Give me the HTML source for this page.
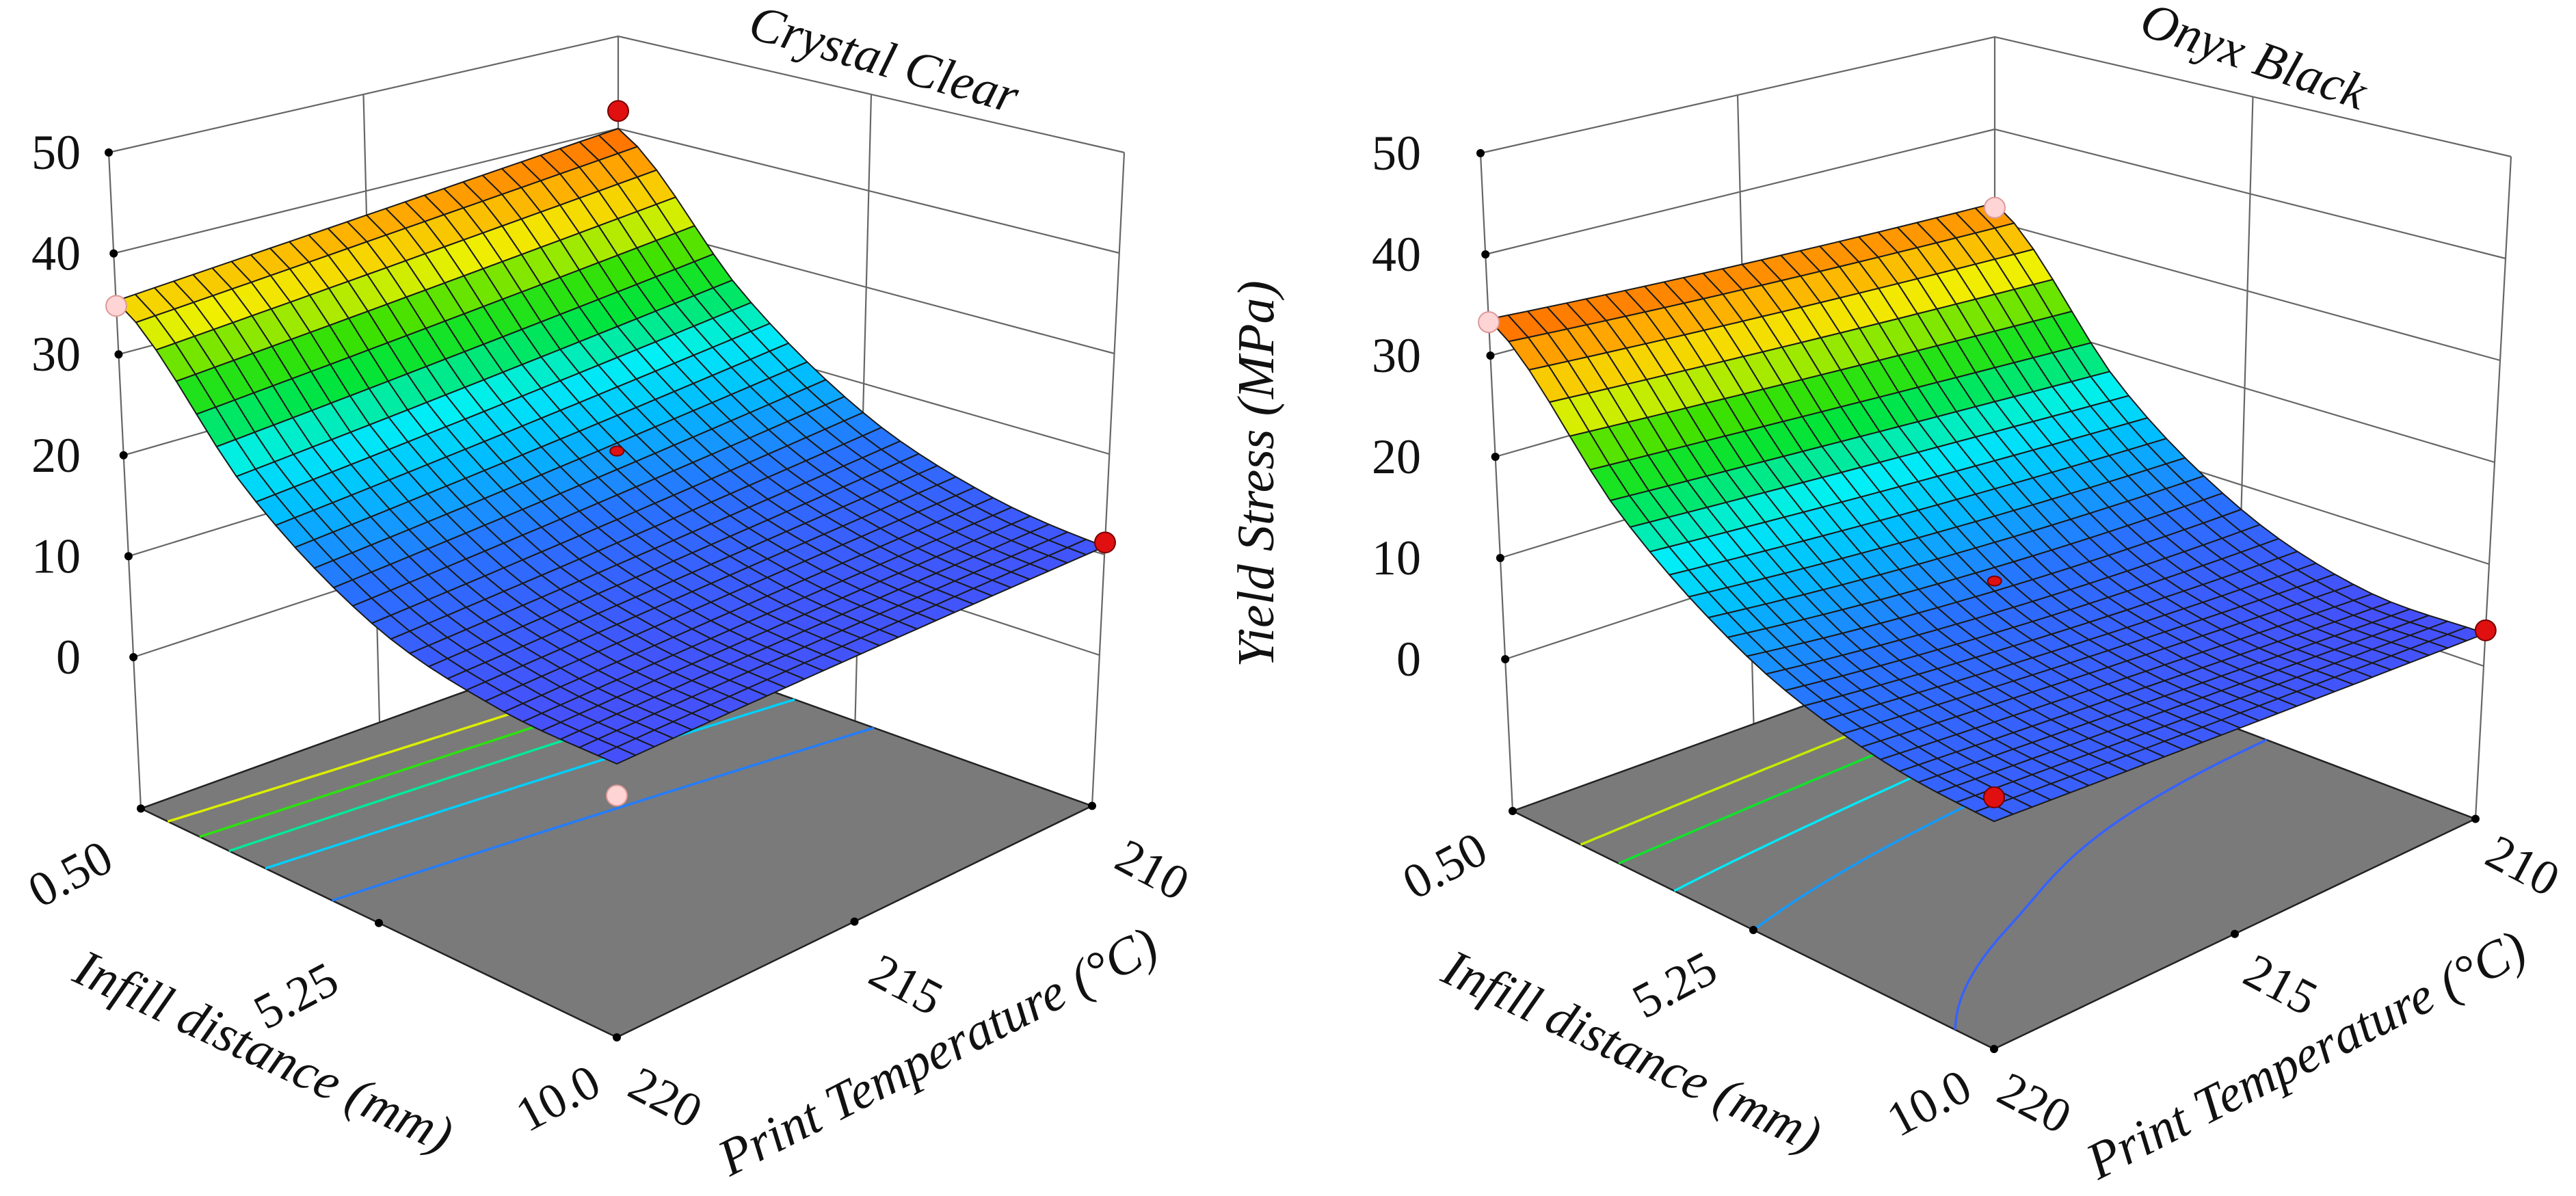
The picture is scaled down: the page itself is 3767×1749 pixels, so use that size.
<!DOCTYPE html>
<html><head><meta charset="utf-8">
<style>
html,body{margin:0;padding:0;background:#fff;}
svg{display:block;}
text{font-family:"Liberation Serif",serif;fill:#111;}
.it{font-style:italic;}
</style></head>
<body>
<svg id="fig" width="3767" height="1749" viewBox="0 0 3767 1749" xmlns="http://www.w3.org/2000/svg" font-family="Liberation Serif, serif">
  <g id="left-chart"></g>
  <g id="right-chart"></g>
  <text x="0" y="0" font-size="76" font-family="Liberation Serif, serif" font-style="italic" class="it" text-anchor="middle" transform="translate(1862,693) rotate(-90)">Yield Stress (MPa)</text>
</svg>
<script>
// ---- data ----
const infillTicks = ['0.50', '5.25', '10.0'];
const tempTicks = ['220', '215', '210'];
const zTicks = [0, 10, 20, 30, 40, 50];
// Crystal Clear surface (columns: infill 0.50 → 10.0)
const ccRow220 = [35.3, 21.5, 13.5, 10.5, 10];
const ccRow215 = [37.5, 23.5, 15, 11.5, 10.5];
const ccRow210 = [40, 26, 17, 12.5, 10.8];
// design points: A(0.5,220) B(10,220) C(10,210) D(0.5,210) center
const ccDesign = [34.8, 7.1, 11.2, 41.9, 21.8];
const ccLevels = [16, 21, 25, 29, 33];
// Onyx Black surface
const obRow220 = [33.6, 19.5, 11, 7, 5.8];
const obRow215 = [32.5, 18, 8.5, 5.2, 4.5];
const obRow210 = [32, 16.5, 7.5, 3.5, 3.2];
const obDesign = [33.3, 8, 3.5, 31.5, 9.5];
const obLevels = [6, 11, 16, 21, 26];

const NS = 'http://www.w3.org/2000/svg';
const FONT = 'Liberation Serif, serif';
function mk(parent, tag, attrs) {
  const e = document.createElementNS(NS, tag);
  for (const k in attrs) e.setAttribute(k, attrs[k]);
  parent.appendChild(e);
  return e;
}
const ZB = -15, ZT = 50;

function makeChart(g, cfg) {
  const rows = [cfg.r220, cfg.r215, cfg.r210];
  function crow(r, u) {
    const t = u * 4; let i = Math.min(3, Math.floor(t)); const f = t - i;
    const p0 = r[Math.max(0, i - 1)], p1 = r[i], p2 = r[i + 1], p3 = r[Math.min(4, i + 2)];
    return 0.5 * ((2 * p1) + (-p0 + p2) * f + (2 * p0 - 5 * p1 + 4 * p2 - p3) * f * f + (-p0 + 3 * p1 - 3 * p2 + p3) * f * f * f);
  }
  function Z(u, v) {
    const a = crow(rows[0], u), b = crow(rows[1], u), c = crow(rows[2], u);
    const l0 = 2 * (v - 0.5) * (v - 1), l1 = -4 * v * (v - 1), l2 = 2 * v * (v - 0.5);
    return a * l0 + b * l1 + c * l2;
  }
  function edge(e, z) {
    return [e.xb + (e.xt - e.xb) * (z - ZB) / (ZT - ZB), e.y0 - e.s * z];
  }
  function P(u, v, z) {
    const A = edge(cfg.A, z), B = edge(cfg.B, z), C = edge(cfg.C, z), D = edge(cfg.D, z);
    const w = [(1 - u) * (1 - v), u * (1 - v), u * v, (1 - u) * v];
    return [w[0] * A[0] + w[1] * B[0] + w[2] * C[0] + w[3] * D[0], w[0] * A[1] + w[1] * B[1] + w[2] * C[1] + w[3] * D[1]];
  }
  let zmin = 1e9, zmax = -1e9;
  for (let i = 0; i <= 40; i++) for (let j = 0; j <= 40; j++) { const z = Z(i / 40, j / 40); zmin = Math.min(zmin, z); zmax = Math.max(zmax, z); }
  const stops = [[0, [70, 80, 250]], [0.18, [40, 115, 255]], [0.33, [0, 190, 255]], [0.44, [0, 240, 245]], [0.56, [0, 228, 60]], [0.66, [60, 225, 0]], [0.78, [240, 240, 0]], [0.9, [255, 170, 0]], [1, [255, 100, 0]]];
  function cmap(z) {
    let t = (z - zmin) / (zmax - zmin); t = Math.max(0, Math.min(1, t));
    for (let i = 1; i < stops.length; i++) if (t <= stops[i][0]) {
      const a = stops[i - 1], b = stops[i], f = (t - a[0]) / (b[0] - a[0]);
      return 'rgb(' + a[1].map((c, k) => Math.round(c + (b[1][k] - c) * f)).join(',') + ')';
    }
    return 'rgb(255,100,0)';
  }
  const pt = p => p[0].toFixed(1) + ',' + p[1].toFixed(1);

  const walls = mk(g, 'g', {stroke: '#666', 'stroke-width': 2.2, fill: 'none'});
  
  
  zTicks.forEach(z => {
    const l = mk(walls, 'polyline', {points: [P(0, 0, z), P(0, 1, z), P(1, 1, z)].map(pt).join(' ')});
    
    
  });
  [[0, 0], [0, 1], [1, 1], [0, 0.5], [0.5, 1]].forEach(([u, v]) => {
    const l = mk(walls, 'line', {x1: P(u, v, ZB)[0], y1: P(u, v, ZB)[1], x2: P(u, v, ZT)[0], y2: P(u, v, ZT)[1]});
    
    
  });
  const floor = mk(g, 'polygon', {points: [P(0, 0, ZB), P(1, 0, ZB), P(1, 1, ZB), P(0, 1, ZB)].map(pt).join(' '), fill: '#7a7a7a', stroke: '#222', 'stroke-width': 2.5});
  
  
  cfg.levels.forEach(L => {
    const pts = [];
    for (let j = 0; j <= 60; j++) {
      const v = j / 60; let prev = Z(0, v) - L;
      for (let i = 1; i <= 200; i++) {
        const u = i / 200, cur = Z(u, v) - L;
        if ((prev > 0) !== (cur > 0)) { const uu = u - (1 / 200) * cur / (cur - prev); pts.push(P(uu, v, ZB)); break; }
        prev = cur;
      }
    }
    if (pts.length > 1) {
      const c = mk(g, 'polyline', {points: pts.map(pt).join(' '), fill: 'none', stroke: cmap(L), 'stroke-width': 3.5});
      
      
    }
  });
  const N = 26, quads = [];
  for (let i = 0; i < N; i++) for (let j = 0; j < N; j++) {
    const u0 = i / N, u1 = (i + 1) / N, v0 = j / N, v1 = (j + 1) / N;
    const zs = [Z(u0, v0), Z(u1, v0), Z(u1, v1), Z(u0, v1)];
    quads.push({d: (1 - (u0 + u1) / 2) + (v0 + v1) / 2, pts: [P(u0, v0, zs[0]), P(u1, v0, zs[1]), P(u1, v1, zs[2]), P(u0, v1, zs[3])], z: (zs[0] + zs[1] + zs[2] + zs[3]) / 4});
  }
  quads.sort((a, b) => b.d - a.d);
  const surf = mk(g, 'g', {stroke: '#1a1a1a', 'stroke-width': 2, 'stroke-linejoin': 'round'});
  
  
  quads.forEach(q => {
    const p = mk(surf, 'polygon', {points: q.pts.map(pt).join(' '), fill: cmap(q.z)});
    
    
  });
  const dpos = [[0, 0], [1, 0], [1, 1], [0, 1], [0.5, 0.5]];
  cfg.design.forEach((z, k) => {
    const [u, v] = dpos[k], p = P(u, v, z), above = z > Z(u, v);
    const c = mk(g, 'ellipse', {cx: p[0], cy: p[1], rx: k === 4 ? 10 : 15, ry: k === 4 ? 7 : 15, fill: above ? '#e01010' : '#ffd4d4', stroke: above ? '#700' : '#d99', 'stroke-width': 2});
    
    
  });
  const td = mk(g, 'g', {fill: '#000'});
  
  
  zTicks.forEach(z => { const p = P(0, 0, z); const d = mk(td, 'circle', {cx: p[0], cy: p[1], r: 6});   });
  [[0, 0], [0.5, 0], [1, 0], [1, 0.5], [1, 1]].forEach(([u, v]) => { const p = P(u, v, ZB); const d = mk(td, 'circle', {cx: p[0], cy: p[1], r: 6});   });
  zTicks.forEach(z => {
    const p = P(0, 0, z);
    const t = mk(g, 'text', {x: cfg.zLabelX, y: p[1] + 24, 'font-size': 72, 'font-family': FONT, 'text-anchor': 'end'});
    t.textContent = z;
    
    
  });
  infillTicks.forEach((s, k) => {
    const [x, y] = cfg.infillPos[k];
    const t = mk(g, 'text', {x: 0, y: 0, 'font-size': 72, 'font-family': FONT, 'text-anchor': 'middle', transform: 'translate(' + x + ',' + (y + 24) + ') rotate(-28)'});
    t.textContent = s;
    
    
  });
  tempTicks.forEach((s, k) => {
    const [x, y] = cfg.tempPos[k];
    const t = mk(g, 'text', {x: 0, y: 0, 'font-size': 72, 'font-family': FONT, 'text-anchor': 'middle', transform: 'translate(' + x + ',' + (y + 24) + ') rotate(28)'});
    t.textContent = s;
    
    
  });
  const xt = mk(g, 'text', {x: 0, y: 0, 'font-size': 76, 'font-family': FONT, 'font-style': 'italic', 'text-anchor': 'middle', transform: 'translate(' + cfg.infillTitle[0] + ',' + cfg.infillTitle[1] + ') rotate(25)'});
  xt.textContent = 'Infill distance (mm)';
  
  
  const yt = mk(g, 'text', {x: 0, y: 0, 'font-size': 76, 'font-family': FONT, 'font-style': 'italic', 'text-anchor': 'middle', transform: 'translate(' + cfg.tempTitle[0] + ',' + cfg.tempTitle[1] + ') rotate(-27)'});
  yt.textContent = 'Print Temperature (°C)';
  
  
  const tt = mk(g, 'text', {x: 0, y: 0, 'font-size': 74, 'font-family': FONT, 'font-style': 'italic', 'text-anchor': 'middle', transform: 'translate(' + cfg.title[0] + ',' + cfg.title[1] + ') rotate(' + cfg.title[2] + ')'});
  tt.textContent = cfg.name;
  
  
}

makeChart(document.getElementById('left-chart'), {
  name: 'Crystal Clear', r220: ccRow220, r215: ccRow215, r210: ccRow210, design: ccDesign, levels: ccLevels,
  A: {xb: 206, xt: 159, y0: 961, s: 14.76}, B: {xb: 902, xt: 902, y0: 1277, s: 16},
  C: {xb: 1597, xt: 1644, y0: 958, s: 14.7}, D: {xb: 904, xt: 904, y0: 728, s: 13.5},
  zLabelX: 118, infillPos: [[114, 1275], [444, 1453], [827, 1603]], tempPos: [[962, 1602], [1314, 1437], [1674, 1269]],
  infillTitle: [375, 1560], tempTitle: [1383, 1560], title: [1286, 110, 16]
});
makeChart(document.getElementById('right-chart'), {
  name: 'Onyx Black', r220: obRow220, r215: obRow215, r210: obRow210, design: obDesign, levels: obLevels,
  A: {xb: 2212, xt: 2165, y0: 964, s: 14.8}, B: {xb: 2916, xt: 2916, y0: 1294, s: 16},
  C: {xb: 3620, xt: 3672, y0: 974, s: 14.9}, D: {xb: 2917, xt: 2917, y0: 729, s: 13.5},
  zLabelX: 2078, infillPos: [[2124, 1263], [2460, 1437], [2832, 1610]], tempPos: [[2964, 1610], [3324, 1437], [3678, 1263]],
  infillTitle: [2376, 1560], tempTitle: [3384, 1565], title: [3288, 105, 19]
});
</script>
</body></html>
